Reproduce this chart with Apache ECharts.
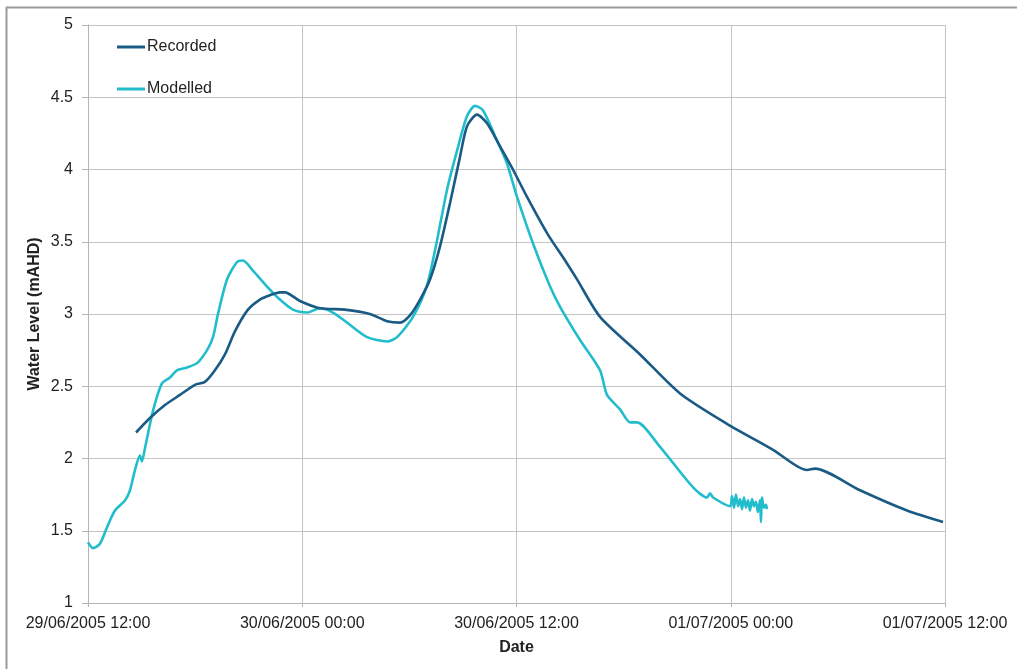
<!DOCTYPE html>
<html>
<head>
<meta charset="utf-8">
<script src="https://cdn.jsdelivr.net/npm/echarts@6/dist/echarts.min.js"></script>
<style>
html,body{margin:0;padding:0;background:#fff;}
#c{width:1017px;height:669px;}
</style>
</head>
<body>
<div id="c"></div>
<script>
// Hours since 29/06/2005 12:00
const xTickLabels = ["29/06/2005 12:00", "30/06/2005 00:00", "30/06/2005 12:00", "01/07/2005 00:00", "01/07/2005 12:00"];
const seriesNames = ["Recorded", "Modelled"];

const recordedHours = [2.69,3.47,4.31,5.15,5.99,6.55,7.11,7.67,8.23,8.96,9.63,10.19,10.75,11.03,11.87,12.99,14.39,15.79,16.75,17.48,18.03,18.60,19.16,19.72,20.28,20.84,21.23,21.79,22.35,23.08,23.80,24.59,25.71,26.83,27.39,28.68,30.92,33.16,35.79,38.37,40.27,40.72,43.24,45.87,47.89];
const recordedValues = [2.18,2.28,2.37,2.44,2.51,2.53,2.61,2.72,2.88,3.03,3.10,3.13,3.15,3.15,3.09,3.04,3.03,3.00,2.95,2.94,2.99,3.10,3.24,3.47,3.77,4.09,4.30,4.38,4.32,4.16,4.00,3.81,3.56,3.35,3.24,2.98,2.72,2.45,2.24,2.06,1.92,1.93,1.78,1.64,1.56];

const modelledHours = [0,0.28,0.67,1.12,1.51,2.07,2.35,2.63,2.91,3.02,3.19,3.64,4.14,4.59,4.98,5.54,6.11,6.67,7.00,7.28,7.79,8.35,8.68,9.24,10.03,10.75,11.48,12.27,12.99,13.72,14.51,15.63,16.75,17.31,18.20,18.99,19.55,20.11,20.67,21.23,21.68,22.12,22.91,23.47,24.03,24.92,25.88,26.44,27.56,28.68,29.07,29.80,30.36,30.75,32.04,33.89,34.67,34.84,35.01,35.96,36.07,36.18,36.29,36.41,36.52,36.63,36.74,36.85,36.97,37.08,37.19,37.30,37.41,37.52,37.64,37.69,37.75,37.86,37.97,38.03];
const modelledValues = [1.42,1.38,1.41,1.54,1.64,1.71,1.78,1.92,2.02,1.98,2.07,2.33,2.52,2.56,2.61,2.63,2.66,2.75,2.84,3.00,3.24,3.36,3.37,3.30,3.19,3.10,3.03,3.01,3.04,3.01,2.94,2.84,2.81,2.84,2.98,3.20,3.51,3.86,4.13,4.37,4.44,4.41,4.20,4.04,3.81,3.49,3.19,3.05,2.82,2.61,2.44,2.34,2.25,2.25,2.08,1.80,1.73,1.76,1.73,1.67,1.74,1.66,1.75,1.67,1.72,1.65,1.73,1.66,1.71,1.64,1.72,1.67,1.70,1.63,1.71,1.56,1.73,1.66,1.68,1.65];

const zip = (a, b) => a.map((v, i) => [v, b[i]]);
const font = '"Liberation Sans", Arial, sans-serif';
const lineIcon = 'rect';

const chart = echarts.init(document.getElementById('c'), null, {renderer: 'canvas'});
chart.setOption({
  animation: false,
  backgroundColor: '#ffffff',
  graphic: [
    {type: 'line', silent: true, shape: {x1: 6, y1: 7.5, x2: 1017, y2: 7.5}, style: {stroke: '#9a9a9a', lineWidth: 2}},
    {type: 'line', silent: true, shape: {x1: 6.5, y1: 7, x2: 6.5, y2: 669}, style: {stroke: '#9a9a9a', lineWidth: 2}}
  ],
  grid: {left: 88, right: 72, top: 25, bottom: 66, containLabel: false},
  legend: {
    orient: 'vertical', left: 117, top: 39, padding: 0, itemGap: 26, itemWidth: 28, itemHeight: 3,
    textStyle: {fontFamily: font, fontSize: 16, color: '#222', padding: [0, 0, 0, -3]},
    data: seriesNames.map(n => ({name: n, icon: lineIcon}))
  },
  xAxis: {
    type: 'value', min: 0, max: 48, interval: 12,
    name: 'Date', nameLocation: 'middle', nameGap: 37,
    nameTextStyle: {fontFamily: font, fontSize: 16, fontWeight: 'bold', color: '#222'},
    axisLine: {show: true, lineStyle: {color: '#b5b5b5', width: 1}},
    axisTick: {show: true, length: 4, lineStyle: {color: '#b5b5b5'}},
    axisLabel: {fontFamily: font, fontSize: 16, color: '#222', margin: 13,
      formatter: v => xTickLabels[Math.round(v / 12)]},
    splitLine: {show: true, lineStyle: {color: '#c4c4c4', width: 1}}
  },
  yAxis: {
    type: 'value', min: 1, max: 5, interval: 0.5,
    name: 'Water Level (mAHD)', nameLocation: 'middle', nameGap: 45, nameMoveOverlap: false,
    nameTextStyle: {fontFamily: font, fontSize: 16, fontWeight: 'bold', color: '#222'},
    axisLine: {show: true, lineStyle: {color: '#b5b5b5', width: 1}},
    axisTick: {show: true, length: 6, lineStyle: {color: '#b5b5b5'}},
    axisLabel: {fontFamily: font, fontSize: 16, color: '#222', margin: 15},
    splitLine: {show: true, lineStyle: {color: '#c4c4c4', width: 1}}
  },
  series: [
    {name: seriesNames[0], type: 'line', data: zip(recordedHours, recordedValues),
     symbol: 'none', smooth: 0.25, lineStyle: {color: '#1a5b86', width: 2.6}, itemStyle: {color: '#1a5b86'}, z: 3},
    {name: seriesNames[1], type: 'line', data: zip(modelledHours, modelledValues),
     symbol: 'none', smooth: 0.25, lineStyle: {color: '#22bdcc', width: 2.6}, itemStyle: {color: '#22bdcc'}, z: 2}
  ]
});
</script>
</body>
</html>
